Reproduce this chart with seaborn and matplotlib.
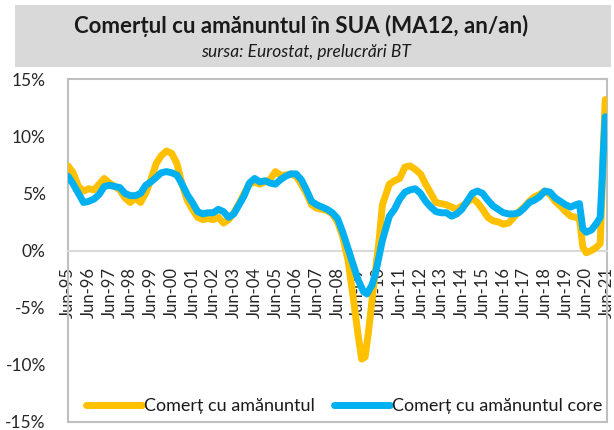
import matplotlib
matplotlib.use("Agg")
import matplotlib.pyplot as plt
import matplotlib.dates as mdates
from matplotlib.patches import Rectangle
import pandas as pd
import seaborn as sns

# ---- data ----
retail_dates = [
    "1995-06", "1995-09", "1995-12", "1996-03", "1996-06", "1996-09", "1996-12",
    "1997-03", "1997-06", "1997-09", "1997-12", "1998-03", "1998-06", "1998-09", "1998-12",
    "1999-03", "1999-06", "1999-09", "1999-12", "2000-03", "2000-06", "2000-09", "2000-12",
    "2001-03", "2001-06", "2001-09", "2001-12", "2002-03", "2002-06", "2002-09", "2002-12",
    "2003-03", "2003-06", "2003-09", "2003-12", "2004-03", "2004-06", "2004-09", "2004-12",
    "2005-03", "2005-06", "2005-09", "2005-12", "2006-03", "2006-06", "2006-09", "2006-12",
    "2007-03", "2007-06", "2007-09", "2007-12", "2008-03", "2008-06", "2008-09", "2008-12",
    "2009-03", "2009-06", "2009-08", "2009-10", "2009-12", "2010-03", "2010-06", "2010-08",
    "2010-12", "2011-03", "2011-06", "2011-09", "2011-12", "2012-03", "2012-06", "2012-09",
    "2012-12", "2013-03", "2013-06", "2013-09", "2013-12", "2014-03", "2014-06", "2014-09",
    "2014-12", "2015-03", "2015-06", "2015-09", "2015-12", "2016-03", "2016-06", "2016-09",
    "2016-12", "2017-03", "2017-06", "2017-09", "2017-12", "2018-03", "2018-06", "2018-09",
    "2018-12", "2019-03", "2019-06", "2019-09", "2019-12", "2020-02", "2020-04", "2020-06",
    "2020-09", "2020-12", "2021-02", "2021-03", "2021-04", "2021-05",
]
retail_values = [
    7.4, 6.8, 5.6, 5.2, 5.4, 5.3, 5.8,
    6.3, 5.9, 5.6, 5.3, 4.6, 4.2, 4.6, 4.2,
    5.0, 6.2, 7.6, 8.3, 8.7, 8.5, 7.6, 5.8,
    4.4, 3.6, 2.9, 2.7, 2.8, 2.7, 2.9, 2.4,
    2.7, 3.3, 4.1, 5.0, 5.8, 6.0, 5.8, 6.0,
    6.2, 6.9, 6.6, 6.6, 6.7, 6.5, 5.8, 5.0,
    4.0, 3.7, 3.6, 3.5, 3.2, 2.5, 1.2, -0.8,
    -4.0, -7.5, -9.5, -9.3, -7.0, -3.0, 0.8, 4.0,
    5.8, 6.1, 6.3, 7.3, 7.4, 7.1, 6.7, 5.8,
    5.0, 4.2, 4.1, 4.0, 3.8, 3.6, 3.9, 4.2,
    4.6, 4.2, 3.6, 2.9, 2.6, 2.5, 2.3, 2.4,
    2.9, 3.4, 3.8, 4.3, 4.7, 4.9, 5.2, 4.9,
    4.3, 3.9, 3.4, 3.0, 2.9, 2.8, 0.3, -0.2,
    0.0, 0.3, 0.6, 4.5, 9.5, 13.2,
]

core_dates = [
    "1995-06", "1995-09", "1995-12", "1996-03", "1996-06", "1996-09", "1996-12",
    "1997-03", "1997-06", "1997-09", "1997-12", "1998-03", "1998-06", "1998-09", "1998-12",
    "1999-03", "1999-06", "1999-09", "1999-12", "2000-03", "2000-06", "2000-09", "2000-12",
    "2001-03", "2001-06", "2001-09", "2001-12", "2002-03", "2002-06", "2002-09", "2002-12",
    "2003-03", "2003-06", "2003-09", "2003-12", "2004-03", "2004-06", "2004-09", "2004-12",
    "2005-03", "2005-06", "2005-09", "2005-12", "2006-03", "2006-06", "2006-09", "2006-12",
    "2007-03", "2007-06", "2007-09", "2007-12", "2008-03", "2008-06", "2008-09", "2008-12",
    "2009-03", "2009-06", "2009-09", "2009-11", "2010-02", "2010-04", "2010-08", "2010-12",
    "2011-03", "2011-06", "2011-09", "2011-12", "2012-03", "2012-06", "2012-09", "2012-12",
    "2013-03", "2013-06", "2013-09", "2013-12", "2014-03", "2014-06", "2014-09", "2014-12",
    "2015-03", "2015-06", "2015-09", "2015-12", "2016-03", "2016-06", "2016-09", "2016-12",
    "2017-03", "2017-06", "2017-09", "2017-12", "2018-03", "2018-06", "2018-09", "2018-12",
    "2019-03", "2019-06", "2019-09", "2019-12", "2020-02", "2020-04", "2020-06", "2020-09",
    "2020-12", "2021-02", "2021-03", "2021-04", "2021-05",
]
core_values = [
    6.5, 5.8, 5.0, 4.2, 4.3, 4.5, 4.9,
    5.6, 5.7, 5.6, 5.5, 5.0, 4.8, 4.8, 5.0,
    5.7, 6.0, 6.4, 6.8, 6.9, 6.8, 6.6, 5.8,
    4.9, 4.2, 3.4, 3.2, 3.3, 3.3, 3.6, 3.4,
    2.9, 3.2, 4.0, 4.8, 5.9, 6.3, 6.0, 6.1,
    5.9, 5.8, 6.2, 6.5, 6.7, 6.7, 6.2, 5.3,
    4.3, 4.0, 3.8, 3.6, 3.3, 2.8, 1.6, 0.2,
    -1.2, -2.6, -3.6, -3.8, -3.0, -2.0, 0.9, 3.0,
    3.6, 4.5, 5.1, 5.3, 5.4, 5.0, 4.3, 3.8,
    3.4, 3.3, 3.3, 3.0, 3.2, 3.6, 4.3, 5.0,
    5.2, 5.0, 4.4, 3.9, 3.6, 3.3, 3.2, 3.2,
    3.3, 3.7, 4.2, 4.4, 4.7, 5.2, 5.1, 4.6,
    4.3, 4.0, 3.8, 4.0, 4.1, 1.9, 1.6, 1.8,
    2.4, 2.9, 5.5, 9.0, 11.7,
]

y_ticks = [-15, -10, -5, 0, 5, 10, 15]
y_tick_labels = ["-15%", "-10%", "-5%", "0%", "5%", "10%", "15%"]

series_names = ["Comerț cu amănuntul", "Comerț cu amănuntul core"]
title_text = "Comerțul cu amănuntul în SUA (MA12, an/an)"
subtitle_text = "sursa: Eurostat, prelucrări BT"

# ---- build dataframes ----
df_retail = pd.DataFrame({"date": pd.to_datetime(retail_dates), "value": retail_values})
df_core = pd.DataFrame({"date": pd.to_datetime(core_dates), "value": core_values})

sns.set_style("white")
plt.rcParams["font.family"] = ["Lato", "DejaVu Sans"]

fig = plt.figure(figsize=(6.14, 4.30), dpi=100)
fig.patch.set_facecolor("white")

# grey title band
fig.patches.append(Rectangle((15 / 614, 1 - 67 / 430), 596 / 614, 62 / 430,
                             transform=fig.transFigure, facecolor="#d9d9d9",
                             edgecolor="none", zorder=0))
fig.text(0.49, 1 - 26 / 430, title_text, ha="center", va="center",
         fontsize=16, fontweight="bold", color="#1a1a1a")
fig.text(0.498, 1 - 52 / 430, subtitle_text, ha="center", va="center",
         fontsize=12.5, style="italic", color="#1a1a1a")

ax = fig.add_axes([68 / 614, 8 / 430, 539 / 614, 343 / 430])

lw = 5.0
sns.lineplot(data=df_retail, x="date", y="value", ax=ax, color="#FFC000",
             linewidth=lw, label=series_names[0], zorder=3,
             solid_capstyle="round", solid_joinstyle="round")
sns.lineplot(data=df_core, x="date", y="value", ax=ax, color="#00B0F0",
             linewidth=lw, label=series_names[1], zorder=4,
             solid_capstyle="round", solid_joinstyle="round")

ax.set_ylim(-15, 15)
ax.set_xlim(pd.Timestamp("1995-06-01"), pd.Timestamp("2021-06-01"))
ax.set_yticks(y_ticks)
ax.set_yticklabels(y_tick_labels)
ax.xaxis.set_major_locator(mdates.MonthLocator(bymonth=6))
ax.xaxis.set_major_formatter(mdates.DateFormatter("%b-%y"))
ax.set_xlabel("")
ax.set_ylabel("")

ax.tick_params(axis="y", length=0, pad=16, labelsize=12.5, labelcolor="#262626")
ax.tick_params(axis="x", length=0, pad=12, labelsize=12, labelcolor="#262626",
               labelrotation=90)
for lab in ax.get_xticklabels():
    lab.set_verticalalignment("top")
    lab.set_horizontalalignment("center")

ax.set_axisbelow(True)
for s in ["top", "left", "right"]:
    ax.spines[s].set_color("#bfbfbf")
    ax.spines[s].set_linewidth(1.5)
ax.spines["bottom"].set_position(("data", 0))
ax.spines["bottom"].set_color("#d9d9d9")
ax.spines["bottom"].set_linewidth(1.5)
ax.add_patch(Rectangle((0, 0), 1, 0.0001, transform=ax.transAxes, fill=False,
                       edgecolor="#bfbfbf", linewidth=1.5, clip_on=False, zorder=1))

leg = ax.legend(loc="center", bbox_to_anchor=(0.513, 0.046), ncol=2, frameon=False,
                fontsize=13, handlelength=3.1, handletextpad=0.12, columnspacing=1.05)
for t in leg.get_texts():
    t.set_color("#1a1a1a")

fig.savefig("out.png", dpi=100)
